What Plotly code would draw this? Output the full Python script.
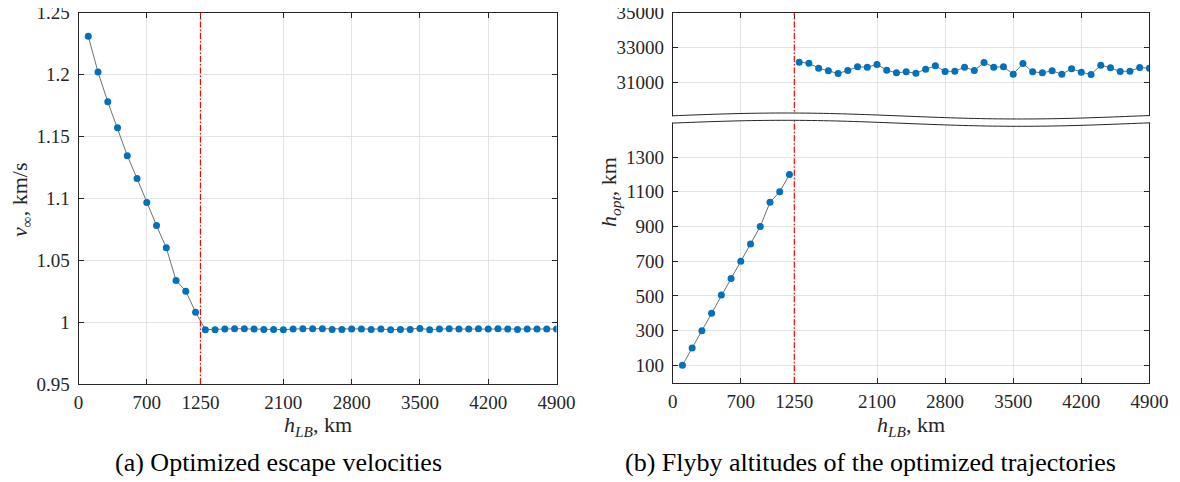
import numpy as np
import plotly.graph_objects as go

# ---------------- data ----------------
h_lb_low = [100, 200, 300, 400, 500, 600, 700, 800, 900, 1000, 1100, 1200]
h_lb_high = list(range(1300, 5000, 100))

v_inf_low = [1.231, 1.202, 1.178, 1.157, 1.1345, 1.116, 1.0966, 1.078, 1.060, 1.0337, 1.025, 1.008]
v_inf_high = [0.9939, 0.9939, 0.9944, 0.9947, 0.9947, 0.9944, 0.9941, 0.9941, 0.9939, 0.9944,
              0.9947, 0.9947, 0.9947, 0.9941, 0.9941, 0.9944, 0.9944, 0.9941, 0.9944, 0.9939,
              0.9941, 0.9941, 0.9949, 0.9939, 0.9944, 0.9947, 0.9944, 0.9944, 0.9947, 0.9944,
              0.9947, 0.9944, 0.9941, 0.9944, 0.9944, 0.9944, 0.9944]

h_opt_low = [100, 200, 300, 400, 505, 600, 700, 800, 900, 1040, 1100, 1200]
h_opt_high = [32150, 32095, 31807, 31653, 31500, 31672, 31882, 31865, 32020, 31692,
              31538, 31595, 31519, 31749, 31941, 31615, 31634, 31865, 31672, 32133,
              31865, 31882, 31461, 32076, 31595, 31538, 31653, 31461, 31768, 31576,
              31442, 31980, 31826, 31615, 31634, 31845, 31807]

x_ticks = [0, 700, 1250, 2100, 2800, 3500, 4200, 4900]
v_ticks = [0.95, 1.0, 1.05, 1.1, 1.15, 1.2, 1.25]
v_tick_text = ["0.95", "1", "1.05", "1.1", "1.15", "1.2", "1.25"]
h_ticks_upper = [31000, 33000, 35000]
h_ticks_lower = [100, 300, 500, 700, 900, 1100, 1300]
h_boundary = 1250

# ---------------- layout helpers (screen pixel -> paper) ----------------
W, H = 1164, 474      # figure size inside the page (page has 8px body margin)
OX, OY = 8, 8
def px(p):
    return (p - OX) / W
def py(p):
    return 1 - (p - OY) / H

FONT = "Liberation Serif"
BLUE = "#0072BD"
LINE_GRAY = "#707070"
AX = "#262626"
GRID = "#e3e3e3"

fig = go.Figure()

def add_series(x, y, xa, ya):
    fig.add_trace(go.Scatter(x=x, y=y, mode="lines+markers", xaxis=xa, yaxis=ya,
                             line=dict(color=LINE_GRAY, width=1),
                             marker=dict(color=BLUE, size=7, line=dict(width=0)),
                             showlegend=False, hoverinfo="x+y"))

add_series(h_lb_low + h_lb_high, v_inf_low + v_inf_high, "x", "y")
add_series(h_lb_high, h_opt_high, "x2", "y2")
add_series(h_lb_low, h_opt_low, "x3", "y3")

tickfont = dict(family=FONT, size=19, color="#262626")
common_x = dict(range=[0, 4900], tickvals=x_ticks, ticktext=[str(t) for t in x_ticks],
                showgrid=True, gridcolor=GRID, gridwidth=1, zeroline=False,
                showline=True, linecolor=AX, linewidth=1, ticks="inside", ticklen=5,
                tickcolor=AX, tickfont=tickfont, ticklabelstandoff=1, automargin=False,
                ticklabeloverflow="allow")
common_y = dict(showgrid=True, gridcolor=GRID, gridwidth=1, zeroline=False,
                showline=True, linecolor=AX, linewidth=1, ticks="inside", ticklen=5,
                tickcolor=AX, tickfont=tickfont, mirror="ticks", ticklabelstandoff=4,
                automargin=False, ticklabeloverflow="allow")

LX0, LX1 = 78.5, 556.5
RX0, RX1 = 672.7, 1149.4

fig.update_layout(
    width=W, height=H,
    margin=dict(l=0, r=0, t=0, b=0, pad=0, autoexpand=False),
    paper_bgcolor="white", plot_bgcolor="white",
    font=dict(family=FONT, color="#262626"),
    xaxis=dict(common_x, domain=[px(LX0), px(LX1)], anchor="y", mirror="ticks"),
    yaxis=dict(common_y, domain=[py(384), py(12.7)], anchor="x", range=[0.95, 1.25],
               tickvals=v_ticks, ticktext=v_tick_text),
    xaxis2=dict(common_x, domain=[px(RX0), px(RX1)], anchor="y2", side="top",
                showticklabels=False, mirror=False),
    yaxis2=dict(common_y, domain=[py(119.5), py(12.7)], anchor="x2", range=[28850, 35000],
                tickvals=h_ticks_upper, ticktext=[str(t) for t in h_ticks_upper]),
    xaxis3=dict(common_x, domain=[px(RX0), px(RX1)], anchor="y3", mirror=False),
    yaxis3=dict(common_y, domain=[py(382.7), py(120)], anchor="x3", range=[0, 1514],
                tickvals=h_ticks_lower, ticktext=[str(t) for t in h_ticks_lower]),
)

shapes = []
red = dict(color="#FF0000", width=1.2, dash="6px,2px,1.5px,2px")
shapes.append(dict(type="line", xref="x", yref="y domain", x0=h_boundary, x1=h_boundary,
                   y0=0, y1=1, line=red, layer="above"))
shapes.append(dict(type="line", xref="x2", yref="y2 domain", x0=h_boundary, x1=h_boundary,
                   y0=0, y1=1, line=red, layer="above"))
shapes.append(dict(type="line", xref="x3", yref="y3 domain", x0=h_boundary, x1=h_boundary,
                   y0=0, y1=1, line=red, layer="above"))

# axis-break waves
xs = np.linspace(RX0, RX1, 80)
y_up = 116 - 3 * np.cos(2 * np.pi * (xs - 785) / 470)
y_lo = y_up + 7.3
xs_fill = np.linspace(RX0 - 2, RX1 + 2, 80)
yf_up = 116 - 3 * np.cos(2 * np.pi * (xs_fill - 785) / 470) + 0.6
yf_lo = yf_up + 7.3 - 1.2
pts = [(px(a), py(b)) for a, b in zip(xs_fill, yf_up)] + \
      [(px(a), py(b)) for a, b in zip(xs_fill[::-1], yf_lo[::-1])]
path = "M " + " L ".join(f"{a:.6f},{b:.6f}" for a, b in pts) + " Z"
shapes.append(dict(type="path", xref="paper", yref="paper", path=path,
                   fillcolor="white", line=dict(width=0), layer="above"))
for yy in (y_up, y_lo):
    p = "M " + " L ".join(f"{px(a):.6f},{py(b):.6f}" for a, b in zip(xs, yy))
    shapes.append(dict(type="path", xref="paper", yref="paper", path=p,
                       line=dict(color=AX, width=1), layer="above"))
fig.update_layout(shapes=shapes)

ann_font = dict(family=FONT, size=22, color="#262626")
annotations = [
    dict(text="<i>h</i><sub><i>LB</i></sub>, km", x=px((LX0 + LX1) / 2), y=py(426),
         xref="paper", yref="paper", showarrow=False, font=ann_font, xanchor="center", yanchor="middle"),
    dict(text="<i>h</i><sub><i>LB</i></sub>, km", x=px((RX0 + RX1) / 2), y=py(426),
         xref="paper", yref="paper", showarrow=False, font=ann_font, xanchor="center", yanchor="middle"),
    dict(text="<i>v</i><sub>∞</sub>, km/s", x=px(21), y=py(200), textangle=-90,
         xref="paper", yref="paper", showarrow=False, font=ann_font, xanchor="center", yanchor="middle"),
    dict(text="<i>h</i><sub><i>opt</i></sub>, km", x=px(610), y=py(192), textangle=-90,
         xref="paper", yref="paper", showarrow=False, font=ann_font, xanchor="center", yanchor="middle"),
    dict(text="(a) Optimized escape velocities", x=px(278), y=py(462),
         xref="paper", yref="paper", showarrow=False, font=dict(family=FONT, size=26, color="black"),
         xanchor="center", yanchor="middle"),
    dict(text="(b) Flyby altitudes of the optimized trajectories", x=px(870), y=py(462),
         xref="paper", yref="paper", showarrow=False, font=dict(family=FONT, size=26, color="black"),
         xanchor="center", yanchor="middle"),
]
fig.update_layout(annotations=annotations)

fig.write_html("out.html")
